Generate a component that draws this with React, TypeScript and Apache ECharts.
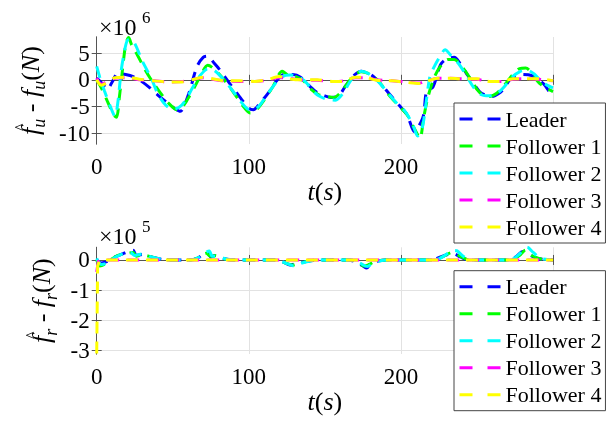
import React, { useEffect, useRef } from "react";
import * as echarts from "echarts";

const SERIES_NAMES = ["Leader", "Follower 1", "Follower 2", "Follower 3", "Follower 4"];
const COLORS = ["#0000ff", "#00ff00", "#00ffff", "#ff00ff", "#ffff00"];
const X_LABELS = [0, 100, 200];
const YU_TICKS = [-10, -5, 0, 5];
const YR_TICKS = [-3, -2, -1, 0];

// top: f_u error (x 1e6)
const leaderUT = [0, 4, 7, 10, 14, 19, 24, 29, 35, 40, 46, 51, 55, 58, 61, 66, 70, 73, 77, 80, 88, 94, 100, 103, 107, 113, 118, 123, 129, 134, 140, 145, 150, 154, 159, 164, 169, 174, 180, 186, 192, 198, 204, 209, 213, 215, 217, 221, 226, 230, 235, 239, 244, 248, 252, 256, 260, 264, 268, 272, 276, 280, 286, 290, 294, 297, 300];
const leaderUV = [0.3, -0.8, -1.8, -0.5, 1.2, 1.0, 0.6, -0.2, -1.5, -2.8, -4.2, -5.3, -5.9, -4.5, -2.2, 2.5, 4.2, 4.4, 3.2, 2.2, -0.9, -3.2, -5.3, -5.6, -4.5, -2.4, -0.3, 1.0, 1.0, 0.5, -1.2, -2.4, -3.0, -3.3, -3.0, -1.0, 0.8, 1.6, 1.0, -0.5, -2.5, -4.5, -6.5, -9.7, -8.0, -6.5, -2.0, -1.4, 2.8, 3.9, 4.2, 3.0, 0.8, -0.8, -2.3, -2.9, -3.1, -2.6, -1.6, 0.2, 0.7, 1.0, 0.8, 0.0, -0.8, -2.0, -3.4];
const f1UT = [0, 3, 7, 11, 13, 15, 17, 19, 21, 23, 27, 32, 37, 42, 47, 53, 56, 60, 65, 69, 73, 76, 80, 86, 92, 97, 101, 105, 110, 116, 122, 126, 131, 136, 141, 146, 151, 156, 160, 164, 169, 174, 180, 186, 192, 198, 204, 209, 212.5, 215, 218, 222, 226, 231, 235, 240, 245, 250, 254, 258, 263, 268, 273, 278, 282, 286, 290, 295, 300];
const f1UV = [0, -1.5, -4, -6.5, -7, -3, 2, 6.5, 7.9, 6.5, 4.5, 1.8, -0.5, -2.5, -4.3, -5.6, -5.2, -3.5, -1, 1.2, 2.7, 2.3, 1.2, -0.8, -3.2, -5.2, -6.2, -5.6, -3.8, -1.2, 1.6, 0.8, 0.6, -0.2, -1.8, -2.8, -3.1, -3.3, -2.5, -1, 0.8, 1.5, 1.0, -0.5, -2.8, -4.7, -6.5, -9.2, -10.9, -7, -3, 0.5, 2.5, 3.8, 3.8, 2.5, 0.5, -1.8, -2.9, -3.1, -2.5, -1.0, 0.8, 2.1, 2.2, 1.3, -0.3, -1.5, -2.2];
const f2UT = [0, 2, 5, 9, 12, 14, 16, 18, 20, 22, 25, 30, 36, 40, 45, 50, 54, 58, 63, 68, 73, 77, 82, 88, 94, 99, 103, 107, 112, 118, 122, 127, 132, 137, 142, 146, 151, 157, 162, 166, 170, 174, 179, 185, 191, 197, 203, 208, 211, 214, 216, 219, 222, 226, 229, 233, 238, 243, 248, 253, 258, 263, 268, 273, 278, 283, 288, 292, 296, 300];
const f2UV = [2.5, 0.5, -2, -5, -6.8, -4, 1.5, 5, 7.3, 7.6, 6.8, 3.5, 0.2, -2.5, -4.6, -5.5, -5.2, -4, -1.5, 0.8, 2.0, 1.8, 0.5, -1.5, -3.8, -5.4, -5.6, -4.8, -2.8, -0.5, 0.6, 0.9, 0.7, -0.3, -2, -3, -3.6, -3.8, -2.5, -0.6, 1, 1.6, 1.1, -0.3, -2.3, -4.3, -6, -8.5, -10.5, -9, -5.5, 0.5, 2.5, 4.5, 5.6, 4.5, 3.0, 0.8, -1.5, -2.8, -3.0, -2.6, -1.3, 0.5, 1.5, 1.8, 1.0, -0.2, -1.0, -1.5];
const f3UT = [0, 3, 7, 12, 20, 28, 38, 48, 56, 64, 70, 76, 84, 94, 104, 112, 120, 126, 134, 145, 155, 162, 170, 176, 184, 194, 204, 212, 218, 224, 232, 240, 250, 258, 266, 274, 282, 290, 300];
const f3UV = [0.3, -0.8, -0.3, 0.3, 0.4, 0.0, -0.2, -0.4, -0.3, 0.1, 0.4, 0.1, -0.2, -0.3, -0.3, -0.1, 0.4, 0.3, 0.0, -0.1, -0.3, -0.2, 0.4, 0.4, 0.0, -0.2, -0.4, -0.6, -0.2, 0.3, 0.3, 0.2, 0.1, -0.3, -0.3, 0.1, 0.2, 0.1, -0.2];
const f4UT = [0, 3, 7, 12, 20, 28, 38, 48, 56, 64, 70, 76, 84, 94, 104, 112, 120, 126, 134, 145, 155, 162, 170, 176, 184, 194, 204, 212, 218, 224, 232, 240, 250, 258, 266, 274, 282, 290, 300];
const f4UV = [0, -1.0, -0.5, 0.4, 0.5, 0.1, -0.2, -0.4, -0.4, 0.1, 0.5, 0.2, -0.2, -0.2, -0.3, 0.0, 0.6, 0.2, 0.0, 0.0, -0.3, -0.3, 0.5, 0.5, -0.1, -0.2, -0.5, -0.7, -0.2, 0.3, 0.3, 0.2, 0.2, -0.3, -0.3, 0.2, 0.2, 0.2, -0.2];

// bottom: f_r error (x 1e5)
const leaderRT = [0, 3, 7, 12, 17, 22, 24, 26, 30, 36, 42, 50, 60, 66, 70, 73, 75, 78, 83, 90, 118, 123, 127, 131, 138, 148, 165, 171, 175, 177.5, 180, 184, 190, 220, 226, 231, 235, 239, 245, 270, 276, 280, 284, 290, 300];
const leaderRV = [0, -0.1, -0.05, 0.1, 0.2, 0.3, 0.32, 0.15, 0.18, 0.1, 0.03, 0, 0, 0.05, 0.2, 0.28, 0.1, 0.15, 0.05, 0, 0, -0.08, -0.17, -0.12, -0.05, 0, 0, -0.08, -0.2, -0.27, -0.12, -0.05, 0, 0, 0.1, 0.18, 0.2, 0.1, 0, 0, 0.12, 0.28, 0.18, 0.05, 0];
const f1RT = [0, 2, 5, 9, 14, 20, 24, 26, 30, 36, 42, 50, 62, 67, 72, 75, 78, 83, 90, 118, 124, 129, 134, 140, 148, 167, 172, 176, 179, 183, 190, 222, 228, 234, 239, 245, 272, 278, 282, 286, 292, 300];
const f1RV = [0, -0.2, -0.15, 0, 0.15, 0.22, 0.25, 0.12, 0.17, 0.1, 0.03, 0, 0, 0.08, 0.22, 0.12, 0.14, 0.04, 0, 0, -0.1, -0.17, -0.1, -0.03, 0, 0, -0.1, -0.2, -0.15, -0.05, 0, 0, 0.12, 0.25, 0.12, 0, 0, 0.15, 0.33, 0.15, 0.03, 0];
const f2RT = [0, 3, 7, 12, 17, 22, 25, 30, 36, 42, 50, 62, 67, 71, 74, 76, 80, 85, 92, 118, 125, 130, 135, 142, 150, 168, 173, 178, 181, 185, 192, 222, 229, 234, 237, 241, 246, 272, 278, 283, 287, 292, 300];
const f2RV = [0.05, -0.15, -0.1, 0.08, 0.2, 0.25, 0.15, 0.2, 0.1, 0.03, 0, 0, 0.08, 0.22, 0.3, 0.12, 0.12, 0.03, 0, 0, -0.12, -0.2, -0.1, -0.02, 0, 0, -0.1, -0.22, -0.12, -0.04, 0, 0, 0.15, 0.32, 0.3, 0.12, 0, 0, 0.2, 0.42, 0.25, 0.05, 0];
const f3RT = [0, 1, 3, 150, 300];
const f3RV = [-0.4, -0.05, 0, 0, 0];
const f4RT = [0, 0.6, 2, 150, 300];
const f4RV = [-3.1, -0.2, 0, 0, 0];

const TOP_T = [leaderUT, f1UT, f2UT, f3UT, f4UT];
const TOP_V = [leaderUV, f1UV, f2UV, f3UV, f4UV];
const BOT_T = [leaderRT, f1RT, f2RT, f3RT, f4RT];
const BOT_V = [leaderRV, f1RV, f2RV, f3RV, f4RV];

const SERIF = "Liberation Serif";
const FRAME = "#555555";
const GRID = "#e2e2e2";

function pairs(t: number[], v: number[]) {
  return t.map((x, i) => [x, v[i]]);
}

function buildOption() {
  const gridL = 96.7;
  const gridW = 456.3;
  const xBase = (gridIndex: number) => ({
    type: "value",
    gridIndex,
    min: 0,
    max: 300,
    interval: 100,
    position: "bottom",
    axisLine: { show: true, lineStyle: { color: FRAME, width: 1 } },
    axisTick: { show: true, inside: true, length: 5, lineStyle: { color: FRAME } },
    axisLabel: { show: true, customValues: X_LABELS, margin: 11, color: "#000", fontFamily: SERIF, fontSize: 23 },
    splitLine: { show: true, lineStyle: { color: GRID, width: 1 } },
    name: "{i|t}{n|(}{i|s}{n|)}",
    nameLocation: "middle",
    nameGap: 33,
    nameTextStyle: {
      color: "#000",
      fontFamily: SERIF,
      rich: {
        i: { fontFamily: SERIF, fontStyle: "italic", fontSize: 26, color: "#000" },
        n: { fontFamily: SERIF, fontSize: 26, color: "#000" },
      },
    },
  });
  const xTop = (gridIndex: number) => ({
    type: "value",
    gridIndex,
    min: 0,
    max: 300,
    interval: 100,
    position: "top",
    axisLine: { show: true, lineStyle: { color: FRAME, width: 1 } },
    axisTick: { show: true, inside: true, length: 5, lineStyle: { color: FRAME } },
    axisLabel: { show: false },
    splitLine: { show: false },
  });
  const yLeft = (gridIndex: number, min: number, max: number, ticks: number[], sub: string, gap: number) => ({
    type: "value",
    gridIndex,
    min,
    max,
    position: "left",
    axisLine: { show: true, lineStyle: { color: FRAME, width: 1 } },
    axisTick: { show: true, inside: true, length: 5, customValues: ticks, lineStyle: { color: FRAME } },
    axisLabel: { show: true, customValues: ticks, margin: 7, color: "#000", fontFamily: SERIF, fontSize: 23 },
    splitLine: { show: true, lineStyle: { color: GRID, width: 1 } },
    name: `{h| ^}{i|f}{s|${sub}}{n| - }{i|f}{s|${sub}}{n|(}{i|N}{n|)}`,
    nameLocation: "middle",
    nameGap: gap,
    nameTextStyle: {
      color: "#000",
      fontFamily: SERIF,
      rich: {
        h: { fontFamily: SERIF, fontSize: 16, lineHeight: 12, width: 0.01, align: "left", verticalAlign: "top", color: "#000" },
        i: { fontFamily: SERIF, fontStyle: "italic", fontSize: 26, lineHeight: 36, color: "#000" },
        s: { fontFamily: SERIF, fontStyle: "italic", fontSize: 18, lineHeight: 18, verticalAlign: "bottom", color: "#000" },
        n: { fontFamily: SERIF, fontSize: 26, lineHeight: 36, color: "#000" },
      },
    },
  });
  const yRight = (gridIndex: number, min: number, max: number, ticks: number[]) => ({
    type: "value",
    gridIndex,
    min,
    max,
    position: "right",
    axisLine: { show: true, lineStyle: { color: FRAME, width: 1 } },
    axisTick: { show: true, inside: true, length: 5, customValues: ticks, lineStyle: { color: FRAME } },
    axisLabel: { show: false },
    splitLine: { show: false },
  });

  const makeSeries = (T: number[][], V: number[][], xi: number, yi: number) =>
    SERIES_NAMES.map((name, k) => ({
      name,
      type: "line",
      xAxisIndex: xi,
      yAxisIndex: yi,
      data: pairs(T[k], V[k]),
      symbol: "none",
      smooth: !(yi === 2 && k >= 3) ? 0.3 : false,
      lineStyle: { color: COLORS[k], width: 3, type: [12, 8] },
      itemStyle: { color: COLORS[k] },
      z: 2 + k * 0.01,
    }));

  const legendBase = (top: number) => ({
    orient: "vertical",
    left: 454,
    top,
    width: 150,
    data: SERIES_NAMES,
    itemWidth: 41,
    itemHeight: 14,
    itemGap: 5,
    padding: [5, 4, 5, 4],
    backgroundColor: "#ffffff",
    borderColor: "#444444",
    borderWidth: 1,
    borderRadius: 0,
    selectedMode: false,
    itemStyle: { opacity: 0, borderWidth: 0 },
    lineStyle: { width: 3, type: [13, 15] },
    textStyle: { fontFamily: SERIF, fontSize: 22, color: "#000" },
    z: 10,
  });

  return {
    animation: false,
    grid: [
      { left: gridL, top: 37, width: gridW, height: 107 },
      { left: gridL, top: 247.3, width: gridW, height: 106.7 },
    ],
    xAxis: [xBase(0), xTop(0), xBase(1), xTop(1)],
    yAxis: [
      yLeft(0, -12, 8, YU_TICKS, "u", 41),
      yRight(0, -12, 8, YU_TICKS),
      yLeft(1, -3.12, 0.42, YR_TICKS, "r", 29),
      yRight(1, -3.12, 0.42, YR_TICKS),
    ],
    legend: [legendBase(103), legendBase(270.7)],
    graphic: [
      { type: "text", x: 99, y: 27, style: { text: "\u00d710", fontFamily: SERIF, fontSize: 24, fill: "#000", verticalAlign: "middle" } },
      { type: "text", x: 142, y: 17, style: { text: "6", fontFamily: SERIF, fontSize: 17, fill: "#000", verticalAlign: "middle" } },
      { type: "text", x: 99, y: 236, style: { text: "\u00d710", fontFamily: SERIF, fontSize: 24, fill: "#000", verticalAlign: "middle" } },
      { type: "text", x: 142, y: 226, style: { text: "5", fontFamily: SERIF, fontSize: 17, fill: "#000", verticalAlign: "middle" } },
    ],
    series: [...makeSeries(TOP_T, TOP_V, 0, 0), ...makeSeries(BOT_T, BOT_V, 2, 2)],
  };
}

export default function App() {
  const ref = useRef<HTMLDivElement>(null);
  const mark = useRef<HTMLSpanElement>(null);
  useEffect(() => {
    if (!ref.current) return;
    const chart = echarts.init(ref.current, undefined, { renderer: "svg" });
    chart.setOption(buildOption() as any);
    let alive = true;
    const timer = setTimeout(() => {
      if (!alive) return;
      chart.setOption(buildOption() as any, true);
      if (mark.current) mark.current.textContent = " ";
    }, 60);
    return () => {
      alive = false;
      clearTimeout(timer);
      chart.dispose();
    };
  }, []);
  return (
    <>
      <div ref={ref} style={{ position: "fixed", left: 0, top: 0, width: 613, height: 425 }} />
      <span ref={mark} style={{ position: "fixed", left: 0, top: 0, fontSize: 1, color: "transparent" }} />
    </>
  );
}
